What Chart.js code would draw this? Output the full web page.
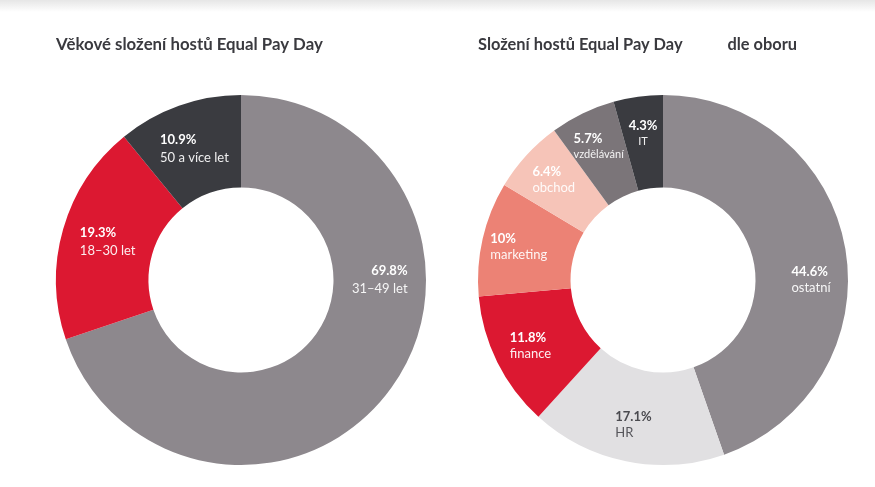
<!DOCTYPE html>
<html><head><meta charset="utf-8">
<script src="https://cdn.jsdelivr.net/npm/chart.js@4.4.0/dist/chart.umd.min.js"></script>
<style>
html,body{margin:0;padding:0;background:#fff;width:875px;height:487px;overflow:hidden}
#shade{position:absolute;left:0;top:0;width:875px;height:12px;background:linear-gradient(#e6e6e6,#ffffff)}
.w{position:absolute;top:0;height:487px}
#w1{left:0;width:437px}
#w2{left:437px;width:438px}
</style></head><body>
<div id="shade"></div>
<div class="w" id="w1"><canvas id="c1" width="437" height="487"></canvas></div>
<div class="w" id="w2"><canvas id="c2" width="438" height="487"></canvas></div>
<script>
const ageTitle = 'Věkové složení hostů Equal Pay Day';
const ageLabels = ['31–49 let', '18–30 let', '50 a více let'];
const ageValues = [69.8, 19.3, 10.9];

const fieldTitle = 'Složení hostů Equal Pay Day\u2003\u2003\u2003  dle oboru';
const fieldLabels = ['ostatní', 'HR', 'finance', 'marketing', 'obchod', 'vzdělávání', 'IT'];
const fieldValues = [44.6, 17.1, 11.8, 10, 6.4, 5.7, 4.3];

const FONT = 'Lato, "Open Sans", sans-serif';

const sliceLabels = {
  id: 'sliceLabels',
  afterDatasetsDraw(chart, args, opts) {
    const ctx = chart.ctx;
    const meta = chart.getDatasetMeta(0);
    const ds = chart.data.datasets[0];
    const total = ds.data.reduce((a, b) => a + b, 0);
    meta.data.forEach((arc, i) => {
      const p = arc.getProps(['x', 'y', 'startAngle', 'endAngle', 'innerRadius', 'outerRadius'], true);
      let a = (p.startAngle + p.endAngle) / 2;
      if (p.startAngle < 0 && p.endAngle > 0) a = 0;
      const r = p.innerRadius + (p.outerRadius - p.innerRadius) * opts.radial;
      const cx = p.x + Math.cos(a) * r;
      const cy = p.y + Math.sin(a) * r;
      const share = ds.data[i] / total;
      const size = share < 0.06 ? opts.size - 2 : opts.size;
      const l1 = String(ds.data[i]) + '%';
      const l2 = chart.data.labels[i];
      ctx.save();
      ctx.textBaseline = 'middle';
      ctx.font = 'bold ' + opts.boldSize + 'px ' + FONT;
      const w1 = ctx.measureText(l1).width;
      ctx.font = size + 'px ' + FONT;
      const w2 = ctx.measureText(l2).width;
      const bw = Math.max(w1, w2);
      const align = opts.align[i];
      let x0, x1 = 0, x2 = 0;
      x0 = cx - bw / 2;
      if (align === 'left') { x1 = x0; x2 = x0; }
      else if (align === 'right') { x1 = x0 + bw - w1; x2 = x0 + bw - w2; }
      else { x1 = cx - w1 / 2; x2 = cx - w2 / 2; }
      ctx.textAlign = 'left';
      ctx.fillStyle = opts.colors[i];
      ctx.font = 'bold ' + opts.boldSize + 'px ' + FONT;
      ctx.fillText(l1, x1, cy - opts.gap / 2);
      ctx.globalAlpha = 0.92;
      ctx.font = size + 'px ' + FONT;
      ctx.fillText(l2, x2, cy + opts.gap / 2);
      ctx.restore();
    });
  }
};

function makeChart(id, title, labels, values, colors, pad, titleSize, labelOpts) {
  return new Chart(document.getElementById(id), {
    type: 'doughnut',
    data: {
      labels: labels,
      datasets: [{
        data: values,
        backgroundColor: colors,
        borderWidth: 0,
        hoverOffset: 0
      }]
    },
    options: {
      responsive: false,
      animation: false,
      cutout: '50%',
      layout: { padding: pad },
      events: [],
      plugins: {
        legend: { display: false },
        tooltip: { enabled: false },
        title: {
          display: true,
          text: title,
          align: 'start',
          color: '#3a3a3f',
          font: { family: FONT, size: titleSize, weight: 'bold' },
          padding: { top: 45 - titleSize * 0.6, bottom: 94 - (45 + titleSize * 0.6) }
        },
        sliceLabels: labelOpts
      }
    },
    plugins: [sliceLabels]
  });
}

makeChart('c1', ageTitle, ageLabels, ageValues,
  ['#8d888d', '#dc1831', '#3a3b40'],
  { left: 56, right: 11, top: 0, bottom: 21 }, 16.8,
  { radial: 0.5, size: 13, boldSize: 13, gap: 18, align: ['right', 'left', 'left'],
    colors: ['#ffffff', '#ffffff', '#ffffff'] });

makeChart('c2', fieldTitle, fieldLabels, fieldValues,
  ['#8e898e', '#e1e0e2', '#dc1831', '#ec8275', '#f6c4b8', '#7b7579', '#3a3b40'],
  { left: 41, right: 27, top: 0, bottom: 21 }, 16.4,
  { radial: 0.6, size: 13, boldSize: 13, gap: 16, align: ['left', 'left', 'left', 'left', 'left', 'left', 'center'],
    colors: ['#ffffff', '#4a4a4f', '#ffffff', '#ffffff', '#ffffff', '#ffffff', '#ffffff'] });
</script>
</body></html>
